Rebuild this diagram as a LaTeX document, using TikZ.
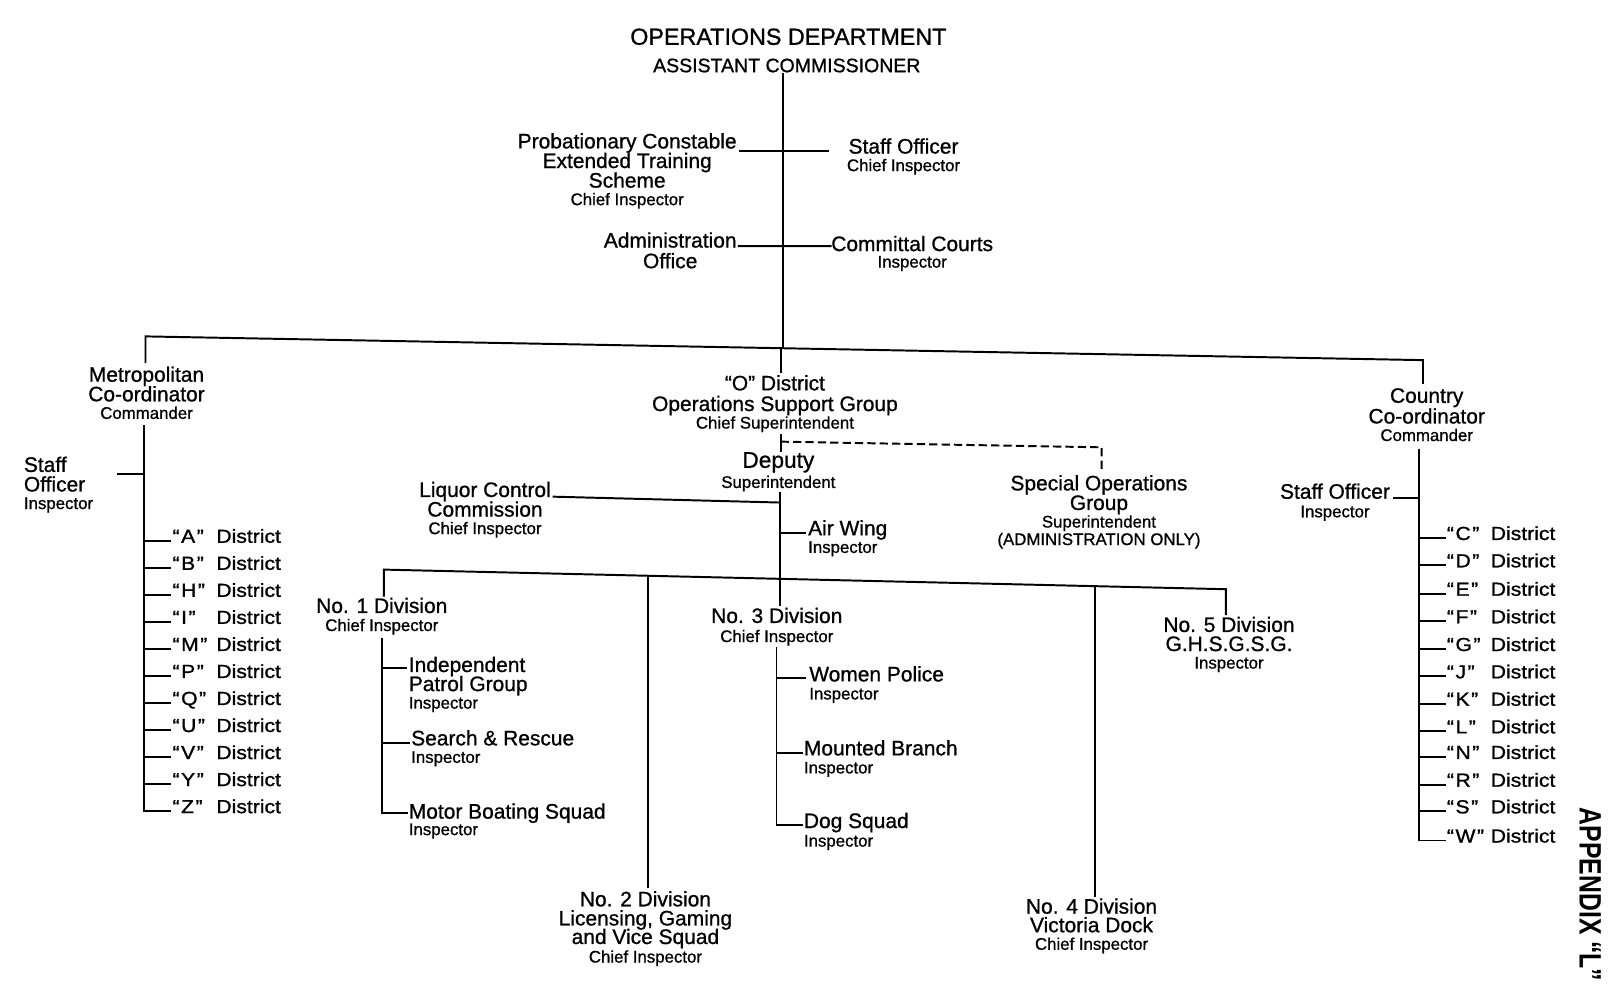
\documentclass[tikz,border=0pt]{standalone}
\usepackage{fontspec}
\setmainfont{Liberation Sans}[FakeBold=0.9]
\newfontfamily\distfamily[FakeStretch=1.12,FakeBold=1.1]{Liberation Sans}
\newfontfamily\appfamily[FakeStretch=0.8]{Liberation Sans}
\newcommand\mainfs{\fontsize{20.3}{19}\selectfont}
\newcommand\rankfs{\fontsize{16.3}{17}\selectfont}
\newcommand\distfs{\distfamily\fontsize{18.3}{18}\selectfont}
\newcommand\dlabel[1]{\makebox[42.5pt][l]{“\kern1.5pt#1\kern1.5pt”}District}

\begin{document}
\begin{tikzpicture}[x=1pt,y=-1pt,
  lbl/.style={inner sep=0pt,align=center,font=\mainfs,anchor=north},
  lbll/.style={inner sep=0pt,align=left,font=\mainfs,anchor=north west},
  dst/.style={inner sep=0pt,font=\distfs,anchor=base west},
  link/.style={line width=1.9pt},
  dashlink/.style={line width=1.9pt,dash pattern=on 8pt off 4pt}]

\fill[white] (0,0) rectangle (1568,974);
\useasboundingbox (0,0) rectangle (1568,974);

% ---------- head of department ----------
\node[inner sep=0pt,anchor=base,font=\fontsize{22.6}{24}\selectfont] (dept) at (764,43.4) {OPERATIONS DEPARTMENT};
\node[inner sep=0pt,anchor=base,font=\fontsize{18.9}{20}\selectfont] (ac) at (762.5,70) {ASSISTANT COMMISSIONER};

\node[lbl] (pc) at (607.8,128.9) {Probationary Constable\\Extended Training\\Scheme\\[-2pt]{\rankfs Chief Inspector}};
\node[lbl] (so) at (875.6,133.9) {Staff Officer\\[-2pt]{\rankfs Chief Inspector}};
\node[lbl] (ao) at (649.5,225) {Administration\\[1pt]Office};
\node[lbl] (cc) at (884,228.4) {Committal Courts\\[-3pt]{\rankfs Inspector}};

% ---------- second level ----------
\node[lbl] (metro) at (142,355) {Metropolitan\\Co-ordinator\\[-2pt]{\rankfs Commander}};
\node[lbll] (msoff) at (23,442.4) {Staff\\Officer\\[-2pt]{\rankfs Inspector}};
\node[lbl] (osg) at (751,363.4) {“O” District\\[1pt]Operations Support Group\\[-2pt]{\rankfs Chief Superintendent}};
\node[lbl] (country) at (1382.6,376) {Country\\[1pt]Co-ordinator\\[-2pt]{\rankfs Commander}};
\node[lbl] (csoff) at (1293.7,468.4) {Staff Officer\\[-1pt]{\rankfs Inspector}};

% ---------- support group ----------
\node[lbl] (dep) at (754.3,438) {{\fontsize{22}{22}\selectfont Deputy}\\[0.5pt]{\rankfs Superintendent}};
\node[lbl] (lcc) at (470,466.7) {Liquor Control\\Commission\\[-2pt]{\rankfs Chief Inspector}};
\node[lbll] (air) at (783,503.9) {Air Wing\\[-2pt]{\rankfs Inspector}};
\node[lbl] (sog) at (1065,460.3) {Special Operations\\Group\\[-2pt]{\rankfs Superintendent}\\[-2pt]{\rankfs (ADMINISTRATION ONLY)}};

% ---------- divisions ----------
\node[lbl] (div1) at (370,579.1) {No. 1 Division\\[-1.5pt]{\rankfs Chief Inspector}};
\node[lbll] (ipg) at (396,636.3) {Independent\\[-0.5pt]Patrol Group\\[-2pt]{\rankfs Inspector}};
\node[lbll] (sar) at (398.3,707.4) {Search \& Rescue\\[-2pt]{\rankfs Inspector}};
\node[lbll] (mbs) at (396,778.4) {Motor Boating Squad\\[-3pt]{\rankfs Inspector}};
\node[lbl] (div2) at (625.5,863.4) {No. 2 Division\\[-0.5pt]Licensing, Gaming\\[-1pt]and Vice Squad\\[-1pt]{\rankfs Chief Inspector}};
\node[lbl] (div3) at (752.8,588.8) {No. 3 Division\\[-0.5pt]{\rankfs Chief Inspector}};
\node[lbll] (wp) at (784.1,645.4) {Women Police\\[-1.5pt]{\rankfs Inspector}};
\node[lbll] (mb) at (778.9,717.1) {Mounted Branch\\[-1.5pt]{\rankfs Inspector}};
\node[lbll] (dog) at (778.9,787.5) {Dog Squad\\[-1pt]{\rankfs Inspector}};
\node[lbl] (div4) at (1057.8,870.5) {No. 4 Division\\[-1pt]Victoria Dock\\[-2pt]{\rankfs Chief Inspector}};
\node[lbl] (div5) at (1191,597.5) {No. 5 Division\\[-0.5pt]G.H.S.G.S.G.\\[-2pt]{\rankfs Inspector}};

\node[rotate=-90,inner sep=0pt,font=\appfamily\bfseries\fontsize{30}{30}\selectfont] (appx) at (1541,867) {APPENDIX “L”};

% ---------- main trunk and cross branches ----------
\coordinate (trunk) at (758.5,0);
\coordinate (barL) at (141,326);
\coordinate (barR) at (1379,349);
\coordinate (barM) at (758.5,337.3);
\draw[link] (ac.south -| trunk) -- (barM);
\draw[link] ([shift={(2,17)}]pc.north east) -- ([shift={(-17,12)}]so.north west);
\draw[link] ([shift={(1,13.6)}]ao.north east) -- ([shift={(0.5,10.2)}]cc.north west);

% ---------- co-ordinator bar ----------
\draw[link] ([yshift=3pt]metro.north -| barL) -- (barL) -- (barR) -- ([yshift=4pt]country.north -| barR);
\coordinate (oline) at (756.5,337.4);
\draw[link] (oline) -- ([yshift=1.5pt]osg.north -| oline);

% ---------- support group links ----------
\coordinate (stubtop) at (756.5,421);
\draw[link] (stubtop) -- (dep.north -| stubtop);
\coordinate (dashA) at (756.5,428);
\coordinate (dashB) at (1067.6,433.5);
\draw[dashlink] (dashA) -- (dashB) -- ([yshift=5pt]sog.north -| dashB);
\coordinate (dtr) at (755.5,476.5);
\draw[link] (dtr) -- ([yshift=1.5pt]div3.north -| dtr);
\coordinate (lccj) at (755.5,487);
\draw[link] ([shift={(1.5,14.6)}]lcc.north east) -- (lccj);
\coordinate (airt) at ([shift={(-2.3,12.9)}]air.north west);
\draw[link] (airt) -- (airt -| dtr);

% ---------- division bar ----------
\coordinate (dbL) at (372,552);
\coordinate (dbR) at (1188,571);
\draw[link] ([yshift=1pt]div1.north -| dbL) -- (dbL) -- (dbR) -- ([yshift=1.5pt]div5.north -| dbR);
\coordinate (d2j) at (628,558);
\draw[link] (d2j) -- ([yshift=2.4pt]div2.north -| d2j);
\coordinate (d4j) at (1061,567.9);
\draw[link] (d4j) -- ([yshift=1.5pt]div4.north -| d4j);

% No. 1 Division branches
\coordinate (n1) at (370.5,618.6);
\coordinate (ipgt) at ([shift={(-1.5,11.4)}]ipg.north west);
\coordinate (sart) at ([shift={(-1.3,12.3)}]sar.north west);
\coordinate (mbst) at ([shift={(-1,9.8)}]mbs.north west);
\draw[link] (n1) |- (mbst);
\draw[link] (ipgt) -- (ipgt -| n1);
\draw[link] (sart) -- (sart -| n1);

% No. 3 Division branches
\coordinate (n3) at (752.5,626.7);
\coordinate (wpt) at ([shift={(-3.1,12)}]wp.north west);
\coordinate (mbt) at ([shift={(-0.9,12.3)}]mb.north west);
\coordinate (dogt) at ([shift={(-0.9,12)}]dog.north west);
\draw[link] (n3) |- (dogt);
\draw[link] (wpt) -- (wpt -| n3);
\draw[link] (mbt) -- (mbt -| n3);

% ---------- metropolitan districts ----------
\coordinate (lt) at (140,412);
\coordinate (msot) at (113.6,459.4);
\draw[link] (msot) -- (msot -| lt);
\foreach \k/\b in {A/526,B/552.2,H/578.4,I/604.6,M/630.8,P/657,Q/683.2,U/709.4,V/735.6,Y/761.8,Z/788}{
  \node[dst] (d\k) at (167,\b) {\dlabel{\k}};
  \coordinate (t\k) at ([shift={(-1,-2)}]d\k.base west);
  \draw[link] (t\k) -- (t\k -| lt);
}
\draw[link] (lt) |- (tZ);

% ---------- country districts ----------
\coordinate (rt) at (1375,435);
\coordinate (csot) at ([shift={(3,14.6)}]csoff.north east);
\draw[link] (csot) -- (csot -| rt);
\foreach \k/\b in {C/523.3,D/549.8,E/577.3,F/604,G/630.9,J/657.4,K/683.9,L/710.7,N/735.5,R/762.4,S/788.2,W/816.5}{
  \node[dst] (d\k) at (1402,\b) {\dlabel{\k}};
  \coordinate (t\k) at ([shift={(-1,-2)}]d\k.base west);
  \draw[link] (t\k) -- (t\k -| rt);
}
\draw[link] (rt) |- (tW);

\end{tikzpicture}
\end{document}
